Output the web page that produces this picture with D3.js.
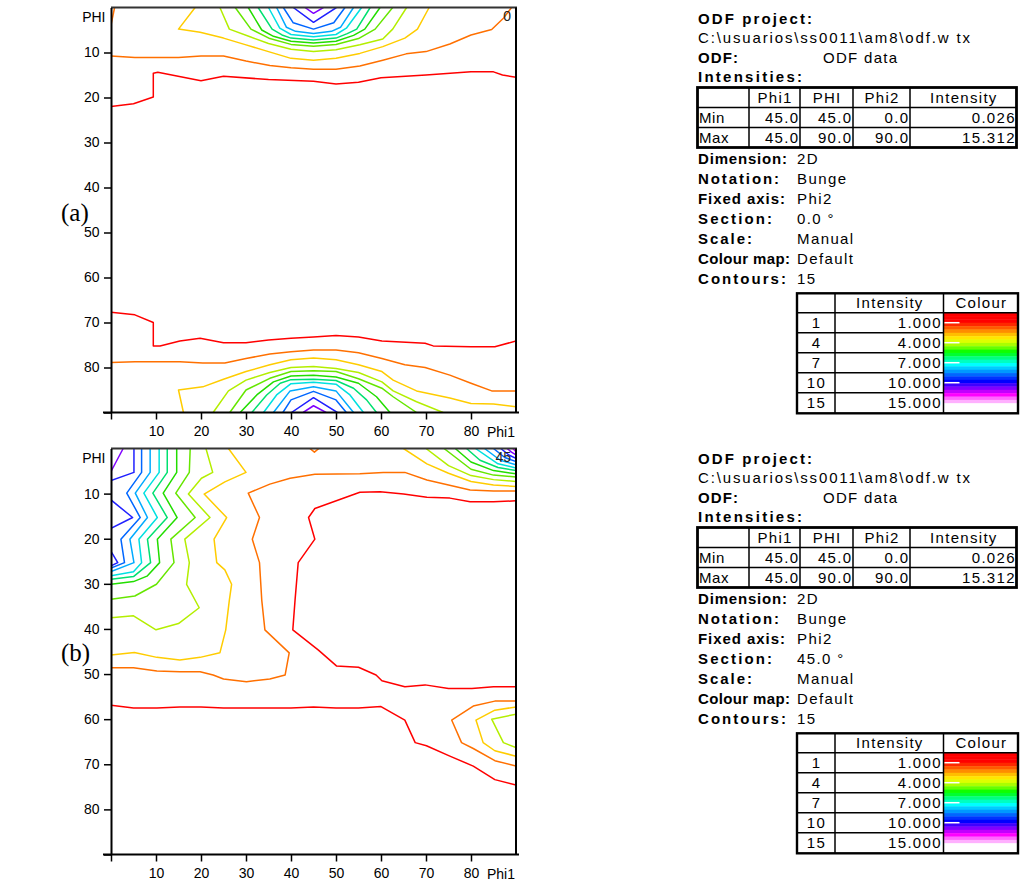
<!DOCTYPE html>
<html><head><meta charset="utf-8">
<script src="https://cdn.jsdelivr.net/npm/d3@7"></script>
<style>
body{margin:0;background:#fff;}
svg{display:block;font-family:"Liberation Sans",Arial,sans-serif;}
</style></head><body>
<svg id="chart" width="1020" height="885"></svg>
<script>
// ---------------- data ----------------
const phiTicksY = [10,20,30,40,50,60,70,80,90];
const phiTicksX = [0,10,20,30,40,50,60,70,80];
const xAxisEndLabel = "Phi1";
const yAxisTopLabel = "PHI";
const sectionLabels = ["0","45"];
const panelTags = ["(a)","(b)"];

// contour level colours (level 1..15)
const levelColors = ["#ff0000","#ff7000","#ffcc00","#b4ee00","#66e600","#22dd00","#00e070","#00e0e0","#00aaff","#0066ff","#2020ff","#8000ff","#c000ff","#ff00ff","#ff80ff"];

// section (a) Phi2 = 0 : [level, [[phi1, PHI], ...]]
const contoursA = [
 [1,[[0,22],[5,21.4],[9.4,19.9],[9.4,14.6],[10.4,14.4],[20,16.3],[25,15.3],[35,16],[45,16.4],[50,17],[55,16.6],[60,15.6],[70,15],[80,14.3],[85,14.3],[87,15],[90,15.5]]],
 [2,[[0,10.8],[5.3,11.1],[15,11.1],[20,10.8],[25,10.8],[30,11.9],[35.3,12.9],[40,13.4],[45,13.7],[50,13.7],[55.3,13],[60.4,11.7],[65.6,10.3],[70,9.8],[75.3,8.1],[80,6.1],[84.6,4.9],[87.2,2.4],[89,0]]],
 [2,[[0,3.9],[0.8,0]]],
 [3,[[18.7,0],[15,4.8],[19.8,5.5],[25,6.8],[30,8.3],[35,9.8],[40,11.3],[45,11.7],[50,11.3],[55.3,10.2],[60.4,8.7],[65.3,6.8],[68.1,4.8],[70.7,0]]],
 [4,[[24.2,0],[26.3,4.8],[30.9,6.5],[35,8.0],[40,9.3],[45,9.8],[50,9.4],[55.3,8.3],[60.4,7.0],[62.6,4.8],[65.7,0]]],
 [5,[[27.6,0],[31.1,4.8],[35.3,6.9],[40,8.2],[45,8.6],[50,8.2],[55,6.9],[58.7,4.8],[62.6,0]]],
 [6,[[30.5,0],[33.5,5.0],[36.1,6.4],[40,7.5],[45,7.9],[50,7.5],[53.9,6.2],[56.4,4.8],[59.8,0]]],
 [7,[[32.7,0],[35.8,4.8],[38,6.1],[40,6.8],[45,7.2],[50,6.8],[52.5,5.8],[54.6,4.8],[57.6,0]]],
 [8,[[35,0],[37.5,4.6],[40,6.0],[45,6.5],[50,6.0],[52.3,4.6],[55.7,0]]],
 [9,[[36.8,0],[39,4.4],[41,5.3],[45,5.8],[49,5.3],[51,4.4],[53.9,0]]],
 [10,[[38.3,0],[40.5,3.4],[45,4.8],[49.5,3.4],[52,0]]],
 [11,[[40.5,0],[45,3.3],[50.1,0]]],
 [12,[[43.1,0],[45,1.3],[47.2,0]]],
 [1,[[0,67.7],[5.3,68.3],[9.4,70],[9.4,75.2],[10.9,75.2],[15.3,74.1],[19.8,73.5],[25,74.5],[30,74.5],[35,73.9],[40,73.5],[45,73.2],[50,72.9],[55,73.2],[60.2,74.1],[69.8,74.6],[71.6,75.2],[80,75.4],[85.3,75.4],[90,74.1]]],
 [2,[[0,78.9],[5.3,78.7],[15.3,78.7],[20.4,79],[25.3,79],[30,78],[35.3,77],[40,76.5],[45,76.1],[50,76.1],[55,76.7],[60.2,78],[65.3,79.4],[69.8,80],[75.3,81.7],[80,83.5],[84.6,85.2],[90,85.2]]],
 [3,[[16.1,90],[15,85],[20.4,84.3],[25,82.6],[30,80.9],[35.3,79.4],[40,78.3],[45,77.9],[50,78.3],[55,79.4],[60.2,80.9],[62.7,82.8],[67.9,85.2],[75.3,86.8],[80,88],[85,88.1],[90,88.7]]],
 [4,[[22.7,90],[26.1,85.2],[30,82.8],[35.3,81.1],[40,80],[45,79.8],[50,80.2],[55,81.1],[60.2,83.2],[62.7,85.2],[67.9,87.6],[73.8,90]]],
 [5,[[26.4,90],[30,85],[35.3,82.4],[40,80.9],[45,80.7],[50,80.9],[55,82.5],[60.2,84.6],[62.7,86.5],[67.9,90]]],
 [6,[[28.7,90],[32.4,86.1],[36.1,83.2],[40,81.9],[45,81.7],[50,82.1],[55,83.5],[59,86.5],[62,90]]],
 [7,[[31.3,90],[34.6,86.1],[37.6,83.5],[40,82.7],[45,82.6],[50,82.9],[53.9,84.6],[56.8,87.2],[59,90]]],
 [8,[[33.9,90],[36.8,86.1],[40,83.6],[45,83.3],[50,83.7],[53.1,86.1],[56.1,90]]],
 [9,[[36.1,90],[39.8,85.2],[45,84.3],[50,85.2],[53.9,90]]],
 [10,[[38.2,90],[40,87.2],[45,85.3],[50,87.2],[52.3,90]]],
 [11,[[40.1,90],[45,86.7],[50.3,90]]],
 [12,[[42.7,90],[45,88.5],[47.8,90]]]
];

// section (b) Phi2 = 45
const contoursB = [
 [1,[[90,11.6],[85,11.8],[79.8,11.8],[75.3,11],[70.2,10.8],[65,10.1],[59.8,9.6],[55.3,9.7],[45.3,13.3],[43.9,15.3],[45.3,20.1],[41.6,25.3],[40.9,33.6],[40.4,40.2],[46.1,44.7],[50.1,48.2],[55,48.5],[58.9,50.2],[60.2,51.5],[65.3,52.8],[69.8,52.4],[75,53.2],[80.2,53.2],[85,52.8],[90,52.8]]],
 [1,[[0,56.9],[5,57.5],[10.2,57.5],[15.3,57.3],[20,57.3],[25,57.5],[30,57.5],[40,57.5],[45,57.3],[50,57.5],[55,57.5],[60,57.2],[65.3,60.2],[67.6,65.2],[70.1,65.9],[75.3,68.2],[80.5,70.4],[85.3,73.4],[90,74.6]]],
 [2,[[90,9.4],[85,9.4],[79.8,9.2],[75,8.1],[70.2,7.0],[65.3,5.3],[60.5,5.3],[55.3,5.6],[45.3,5.7],[39.8,6.6],[35.3,7.9],[30.5,9.9],[33,15.3],[31.4,20.1],[33,25.3],[33.5,33.6],[34.2,40.2],[39.6,45.3],[38.7,50.2],[35.3,51.1],[30.1,51.7],[25,51.1],[22.7,50.2],[19.8,49.5],[15.3,49.5],[10.2,49.3],[5,48.6],[0,48.6]]],
 [2,[[44.2,0],[45.2,0.8],[46.2,0]]],
 [2,[[90,56],[85.3,56],[80.5,57.1],[75.7,60.2],[77.9,65.2],[80.5,66.5],[85.3,69.2],[90,70.4]]],
 [3,[[26.1,0],[30,5.3],[25.3,7.4],[20.7,10.1],[25.7,15.3],[22.9,20.1],[23.5,25.3],[25.3,26.9],[26.8,30.1],[26.3,33.6],[25.5,40.2],[24.2,45.3],[19.8,46.3],[15.3,46.9],[10.2,46.3],[5.2,45.2],[0,45.8]]],
 [3,[[65,0],[70.2,3.4],[75,5.5],[80,7.3],[85,8.1],[90,8.4]]],
 [3,[[90,57.3],[85.3,58],[81.1,60.2],[82.7,65.2],[85.3,67],[90,68.2]]],
 [4,[[21.1,0],[22.6,5.3],[20.1,6.6],[17.2,10.1],[22,15.3],[16.4,20.1],[17.4,25.3],[16.8,30.1],[19.6,35.3],[15,38.8],[10,40.2],[5,37.1],[0,37.5]]],
 [4,[[70,0],[75,3.8],[80,6.0],[85,6.9],[90,7.3]]],
 [4,[[90,58.9],[84.6,60],[87.2,65.2],[90,66.3]]],
 [5,[[17.6,0],[17.4,5.3],[14.4,9.9],[18.7,15.3],[13.3,20.1],[14.0,25.3],[10.1,30.1],[5.3,32.7],[0,33.4]]],
 [5,[[74,0],[80,4.6],[85,5.9],[90,6.3]]],
 [6,[[14.6,0],[14.6,5.3],[11.6,9.9],[14.7,15.3],[10.3,20.1],[10.8,25.3],[8.0,28.3],[5.0,29.5],[0,30.1]]],
 [6,[[76.5,0],[80,3.0],[85,4.9],[90,5.6]]],
 [7,[[12.5,0],[12.5,5.3],[9.3,9.9],[12.5,15.3],[8.1,20.1],[8.8,25.3],[5.0,28.4],[0,29.0]]],
 [7,[[79,0],[82,2.6],[86,4.2],[90,4.9]]],
 [8,[[10.7,0],[10.7,5.3],[7.3,9.9],[10.3,15.3],[6.2,20.1],[6.8,25.3],[5.0,27.3],[0,28.2]]],
 [8,[[81,0],[86,3.4],[90,4.3]]],
 [9,[[8.7,0],[8.7,5.3],[5.4,9.9],[8.1,15.3],[4.2,20.1],[5.1,25.3],[0,27.3]]],
 [9,[[83,0],[86.5,2.6],[90,3.6]]],
 [10,[[6.8,0],[6.8,5.3],[3.5,9.9],[6.5,15.3],[2.2,20.1],[3.0,25.3],[0,26.5]]],
 [10,[[85,0],[87.5,2.0],[90,2.9]]],
 [11,[[5.1,0],[5.1,5.3],[0,7.1]]],
 [11,[[0,11.4],[4.8,15.3],[0,17.7]]],
 [11,[[0,22.8],[1.5,25.3],[0,26.0]]],
 [11,[[86.6,0],[88.5,1.5],[90,2.2]]],
 [12,[[2.7,0],[0,5.1]]],
 [12,[[88,0],[89,0.8],[90,1.4]]],
 [13,[[89.3,0],[90,0.7]]]
];

// info panel text
const projectLabel = "ODF project:";
const projectPath = "C:\\usuarios\\ss0011\\am8\\odf.w tx";
const odfLabel = "ODF:";
const odfValue = "ODF data";
const intensitiesLabel = "Intensities:";
const intensityHeader = ["", "Phi1", "PHI", "Phi2", "Intensity"];
const intensityRowNames = ["Min", "Max"];
const intensityMin = [45.0, 45.0, 0.0, 0.026];
const intensityMax = [45.0, 90.0, 90.0, 15.312];
const infoLabels = ["Dimension:", "Notation:", "Fixed axis:", "Section:", "Scale:", "Colour map:", "Contours:"];
const infoLabelWidths = [89, 81, 87, 74, 54, 92, 88];
const infoValuesA = ["2D", "Bunge", "Phi2", "0.0 °", "Manual", "Default", "15"];
const infoValuesB = ["2D", "Bunge", "Phi2", "45.0 °", "Manual", "Default", "15"];
const legendHeader = ["", "Intensity", "Colour"];
const legendLevels = [1, 4, 7, 10, 15];
const legendValues = [1.000, 4.000, 7.000, 10.000, 15.000];
const colourBands = ["#ff0000","#ff0000","#ff0000","#ff2800","#ff5a00","#ff8c00","#ffbe00","#ffe600","#ddff00","#aaff00","#66ff00","#10ff00","#00ff30","#00ff80","#00ffc0","#00ffff","#00ccff","#0099ff","#0066ff","#0033ff","#0000ff","#4000ff","#8000ff","#c000ff","#ff00ff","#ff66ff","#ffb0ff","#ffffff","#ffffff","#ffffff"];

// ---------------- drawing ----------------
const svg = d3.select("#chart");
const x = d3.scaleLinear().domain([0, 90]).range([111, 516]);
const plots = [
  {y0: 7.5, y1: 412.5, contours: contoursA, section: sectionLabels[0], tag: panelTags[0], tagY: 221, values: infoValuesA, py: 0},
  {y0: 448.5, y1: 854.5, contours: contoursB, section: sectionLabels[1], tag: panelTags[1], tagY: 661, values: infoValuesB, py: 440}
];

plots.forEach((p, i) => {
  const y = d3.scaleLinear().domain([0, 90]).range([p.y0, p.y1]);
  const g = svg.append("g");
  const line = d3.line().x(d => x(d[0])).y(d => y(d[1]));

  g.append("clipPath").attr("id", "clip" + i).append("rect")
    .attr("x", x(0)).attr("y", y(0)).attr("width", x(90) - x(0)).attr("height", y(90) - y(0));

  g.append("g").attr("clip-path", `url(#clip${i})`)
    .selectAll("path").data(p.contours).join("path")
    .attr("d", d => line(d[1]))
    .attr("fill", "none")
    .attr("stroke", d => levelColors[d[0] - 1])
    .attr("stroke-width", 1.5)
    .attr("stroke-linejoin", "round");

  // frame top and right
  g.append("line").attr("x1", x(0)).attr("x2", x(90) + 1).attr("y1", y(0)).attr("y2", y(0))
    .attr("stroke", "#333").attr("stroke-width", 2);
  g.append("line").attr("x1", x(90)).attr("x2", x(90)).attr("y1", y(0)).attr("y2", y(90))
    .attr("stroke", "#000").attr("stroke-width", 2);

  // left axis
  const ya = g.append("g").attr("transform", `translate(${x(0)},0)`)
    .call(d3.axisLeft(y).tickValues(phiTicksY).tickSize(7).tickSizeOuter(0).tickPadding(4.5)
      .tickFormat(d => d === 90 ? "" : d));
  // bottom axis
  const xa = g.append("g").attr("transform", `translate(0,${y(90)})`)
    .call(d3.axisBottom(x).tickValues(phiTicksX).tickSize(7).tickSizeOuter(0).tickPadding(7)
      .tickFormat(d => d === 0 ? "" : d));
  [ya, xa].forEach(a => {
    a.attr("font-family", '"Liberation Sans", Arial, sans-serif').attr("font-size", 14);
    a.select(".domain").attr("stroke", "#000").attr("stroke-width", 2);
    a.selectAll(".tick line").attr("stroke", "#000").attr("stroke-width", 1.5);
    a.selectAll(".tick text").attr("fill", "#000");
  });
  xa.select(".domain").attr("d", `M${x(0) - 8},0H${x(90) + 3}`);

  g.append("text").attr("x", x(0) - 5.5).attr("y", y(0) + 14.5).attr("text-anchor", "end")
    .attr("font-size", 14).text(yAxisTopLabel);
  g.append("text").attr("x", x(90) - 1).attr("y", y(90) + 24.5).attr("text-anchor", "end")
    .attr("font-size", 14).text(xAxisEndLabel);
  g.append("text").attr("x", x(90) - 5).attr("y", y(0) + 13.5).attr("text-anchor", "end")
    .attr("font-size", 14).attr("fill", "#222").text(p.section);

  g.append("text").attr("x", 61).attr("y", p.tagY)
    .attr("font-family", '"Liberation Serif", "Times New Roman", serif').attr("font-size", 25)
    .text(p.tag);

  // ---------- info panel ----------
  const P = svg.append("g").attr("transform", `translate(0,${p.py})`);
  const LS = 1.3;
  const tx = (s, xx, yy, o = {}) => {
    const t = P.append("text").attr("x", xx).attr("y", yy).text(s)
      .attr("font-size", 15).attr("fill", "#000")
      .attr("text-anchor", o.anchor || "start");
    if (o.bold) t.attr("font-weight", "bold");
    if (o.len) t.attr("textLength", o.len).attr("lengthAdjust", "spacing");
    else t.style("letter-spacing", (o.ls != null ? o.ls : LS) + "px");
    return t;
  };
  tx(projectLabel, 698, 24, {bold: true, len: 114});
  tx(projectPath, 698, 43, {len: 272});
  tx(odfLabel, 698, 63, {bold: true, len: 40});
  tx(odfValue, 823, 63);
  tx(intensitiesLabel, 698, 82, {bold: true, len: 104});

  // intensities table
  const cols = [697.5, 749, 800, 853, 910, 1016.5];
  const rowsY = [87.5, 107.5, 127.5, 147.5];
  P.append("rect").attr("x", cols[0]).attr("y", rowsY[0]).attr("width", cols[5] - cols[0])
    .attr("height", rowsY[3] - rowsY[0]).attr("fill", "none").attr("stroke", "#000").attr("stroke-width", 2.8);
  cols.slice(1, 5).forEach(c => P.append("line").attr("x1", c).attr("x2", c)
    .attr("y1", rowsY[0]).attr("y2", rowsY[3]).attr("stroke", "#000").attr("stroke-width", 1.5));
  rowsY.slice(1, 3).forEach(r => P.append("line").attr("x1", cols[0]).attr("x2", cols[5])
    .attr("y1", r).attr("y2", r).attr("stroke", "#000").attr("stroke-width", 1.6));
  intensityHeader.forEach((h, k) => {
    if (h) tx(h, (cols[k] + cols[k + 1]) / 2 + LS / 2, rowsY[0] + 15, {anchor: "middle"});
  });
  [intensityMin, intensityMax].forEach((row, r) => {
    tx(intensityRowNames[r], 699, rowsY[r + 1] + 15, {ls: 0.6});
    row.forEach((v, k) => {
      const s = k === 3 ? d3.format(".3f")(v) : d3.format(".1f")(v);
      tx(s, cols[k + 2] - 2 + LS, rowsY[r + 1] + 15, {anchor: "end"});
    });
  });

  // info lines
  infoLabels.forEach((l, k) => {
    const yy = 164 + k * 20;
    tx(l, 698, yy, {bold: true, len: infoLabelWidths[k]});
    tx(p.values[k], 797, yy, {ls: 1.4});
  });

  // legend table
  const lc = [797, 835, 943.5, 1018];
  const lr = [293.3, 312.7, 332.7, 352.7, 372.7, 392.7, 413.3];
  const bandY = d3.scaleBand().domain(d3.range(colourBands.length)).range([lr[1], lr[6]]);
  P.append("g").selectAll("rect").data(colourBands).join("rect")
    .attr("x", lc[2]).attr("width", lc[3] - lc[2])
    .attr("y", (d, k) => bandY(k)).attr("height", bandY.bandwidth() + 0.4)
    .attr("fill", d => d);
  P.append("rect").attr("x", lc[0]).attr("y", lr[0]).attr("width", lc[3] - lc[0])
    .attr("height", lr[6] - lr[0]).attr("fill", "none").attr("stroke", "#000").attr("stroke-width", 2.4);
  [lc[1], lc[2]].forEach(c => P.append("line").attr("x1", c).attr("x2", c)
    .attr("y1", lr[0]).attr("y2", lr[6]).attr("stroke", "#000").attr("stroke-width", 1.5));
  P.append("line").attr("x1", lc[0]).attr("x2", lc[3]).attr("y1", lr[1]).attr("y2", lr[1])
    .attr("stroke", "#000").attr("stroke-width", 1.6);
  lr.slice(2, 6).forEach(r => P.append("line").attr("x1", lc[0]).attr("x2", lc[2])
    .attr("y1", r).attr("y2", r).attr("stroke", "#000").attr("stroke-width", 1.6));
  legendHeader.forEach((h, k) => {
    if (h) tx(h, (lc[k] + lc[k + 1]) / 2 + LS / 2, lr[0] + 15, {anchor: "middle"});
  });
  legendLevels.forEach((lv, k) => {
    const ry = lr[k + 1];
    tx(String(lv), (lc[0] + lc[1]) / 2 + 0.5, ry + 15.5, {anchor: "middle"});
    tx(d3.format(".3f")(legendValues[k]), lc[2] - 3 + LS, ry + 15.5, {anchor: "end"});
    if (k < 4) P.append("line").attr("x1", lc[2] + 1).attr("x2", lc[2] + 16)
      .attr("y1", (ry + lr[k + 2]) / 2).attr("y2", (ry + lr[k + 2]) / 2)
      .attr("stroke", "#fff").attr("stroke-width", 1.5);
  });
});
</script>
</body></html>
